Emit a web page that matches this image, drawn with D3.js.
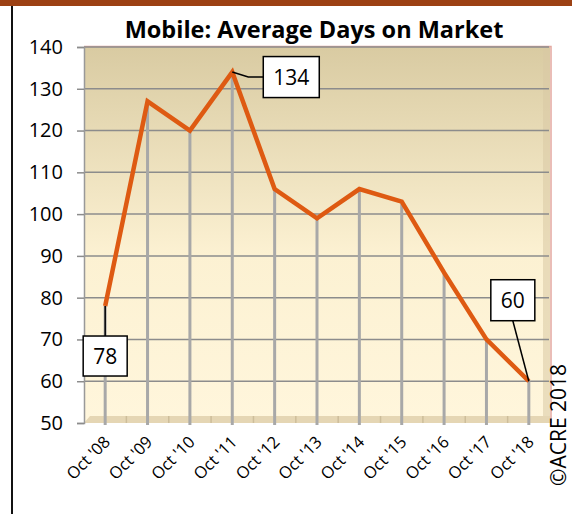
<!DOCTYPE html>
<html lang="en">
<head>
<meta charset="utf-8">
<title>Mobile: Average Days on Market</title>
<script src="https://d3js.org/d3.v7.min.js"></script>
<style>
  body { margin: 0; background: #fff; }
  text { font-family: "Open Sans", Lato, sans-serif; }
</style>
</head>
<body>
<script>
var years = ["Oct '08", "Oct '09", "Oct '10", "Oct '11", "Oct '12", "Oct '13",
             "Oct '14", "Oct '15", "Oct '16", "Oct '17", "Oct '18"];
var days = [78, 127, 120, 134, 106, 99, 106, 103, 86, 70, 60];
var yTicks = [50, 60, 70, 80, 90, 100, 110, 120, 130, 140];
// which points get a callout, and where the box sits relative to the point
var callouts = [
  {i: 0, dx: 0, dy: 50, w: 44, h: 40},
  {i: 3, dx: 59, dy: 5, w: 56, h: 41},
  {i: 10, dx: -16, dy: -81, w: 44, h: 41}
];

var W = 572, H = 514;
var svg = d3.select("body").append("svg").attr("width", W).attr("height", H);

var x = d3.scalePoint().domain(years).range([84, 550]).padding(0.5);
var y = d3.scaleLinear().domain([50, 140]).range([423, 47]);

// frame
svg.append("rect").attr("x", 0).attr("y", 0).attr("width", W).attr("height", 6).attr("fill", "#9c4114");
svg.append("line").attr("x1", 12).attr("x2", 12).attr("y1", 6).attr("y2", H)
   .attr("stroke", "#111").attr("stroke-width", 2);

// background gradient
var defs = svg.append("defs");
var grad = defs.append("linearGradient").attr("id", "bg").attr("x1", 0).attr("x2", 0).attr("y1", 0).attr("y2", 1);
grad.append("stop").attr("offset", "0%").attr("stop-color", "#d9cba2");
grad.append("stop").attr("offset", "55%").attr("stop-color", "#fcf1d2");
grad.append("stop").attr("offset", "100%").attr("stop-color", "#fff6dc");

svg.append("rect").attr("x", 84).attr("y", 47).attr("width", 466).attr("height", 376).attr("fill", "url(#bg)");
// right wall side
svg.append("rect").attr("x", 543).attr("y", 47).attr("width", 7).attr("height", 376)
   .attr("fill", "#d8c9a4").attr("opacity", 0.55);
// floor
svg.append("path").attr("d", "M84,423 L90,416 L550,416 L550,423 Z").attr("fill", "#e5d6b4");
// pink outline
svg.append("path").attr("d", "M84,46.5 L551,46.5 L551,423").attr("fill", "none")
   .attr("stroke", "#e3a8a0").attr("stroke-width", 1.5);

// horizontal gridlines
svg.append("g").selectAll("line").data(yTicks.slice(1)).join("line")
   .attr("x1", 84).attr("x2", 549)
   .attr("y1", function (d) { return y(d); }).attr("y2", function (d) { return y(d); })
   .attr("stroke", "#8c8c8c").attr("stroke-width", 1.5);

// small floor ticks between categories
svg.append("g").selectAll("line").data(years.slice(0, -1)).join("line")
   .attr("x1", function (d) { return x(d) + x.step() / 2; })
   .attr("x2", function (d) { return x(d) + x.step() / 2; })
   .attr("y1", 416).attr("y2", 423)
   .attr("stroke", "#cdbd9a").attr("stroke-width", 1.5);

// y axis
var yAxis = svg.append("g").attr("transform", "translate(84,0)")
   .call(d3.axisLeft(y).tickValues(yTicks).tickSize(7).tickPadding(14));
yAxis.select(".domain").attr("stroke", "#999").attr("stroke-width", 1.5);
yAxis.selectAll(".tick line").attr("stroke", "#8c8c8c").attr("stroke-width", 1.5);
yAxis.selectAll("text").attr("font-size", 20).attr("fill", "#000")
   .style("font-family", "'Open Sans', sans-serif");

// drop lines
svg.append("g").selectAll("line").data(days).join("line")
   .attr("x1", function (d, i) { return x(years[i]); })
   .attr("x2", function (d, i) { return x(years[i]); })
   .attr("y1", function (d) { return y(d); })
   .attr("y2", 425)
   .attr("stroke", "#a8a8a8").attr("stroke-width", 3);

// x labels
svg.append("g").selectAll("text").data(years).join("text")
   .attr("transform", function (d) { return "translate(" + (x(d) + 6) + ",443) rotate(-45)"; })
   .attr("text-anchor", "end")
   .attr("font-size", 16.5)
   .text(function (d) { return d; });

// line
var line = d3.line()
   .x(function (d, i) { return x(years[i]); })
   .y(function (d) { return y(d); });
svg.append("path").datum(days).attr("d", line)
   .attr("fill", "none").attr("stroke", "#de5a12").attr("stroke-width", 4.5)
   .attr("stroke-linejoin", "miter");

// callouts
callouts.forEach(function (c) {
  var px = x(years[c.i]), py = y(days[c.i]);
  var bx = px + c.dx, by = py + c.dy;
  var p;
  if (c.i === 3) {
    p = "M" + px + "," + py + " L" + (px + 16) + "," + (py + 5) + " L" + (bx - c.w / 2) + "," + (by);
  } else if (c.dy > 0) {
    p = "M" + px + "," + py + " L" + bx + "," + (by - c.h / 2);
  } else {
    p = "M" + px + "," + py + " L" + bx + "," + (by + c.h / 2);
  }
  svg.append("path").attr("d", p).attr("fill", "none").attr("stroke", "#000").attr("stroke-width", 1.5);
  svg.append("rect").attr("x", bx - c.w / 2).attr("y", by - c.h / 2)
     .attr("width", c.w).attr("height", c.h)
     .attr("fill", "#fff").attr("stroke", "#000").attr("stroke-width", 1.5);
  svg.append("text").attr("x", bx).attr("y", by + 7.5)
     .attr("text-anchor", "middle").attr("font-size", 21)
     .text(days[c.i]);
});

// title
svg.append("text").attr("x", 314).attr("y", 38).attr("text-anchor", "middle")
   .attr("font-size", 23.5).attr("font-weight", "bold")
   .text("Mobile: Average Days on Market");

// copyright
svg.append("text").attr("transform", "translate(566,486) rotate(-90)")
   .attr("text-anchor", "start").attr("font-size", 21)
   .text("\u00a9ACRE 2018");
</script>
</body>
</html>
